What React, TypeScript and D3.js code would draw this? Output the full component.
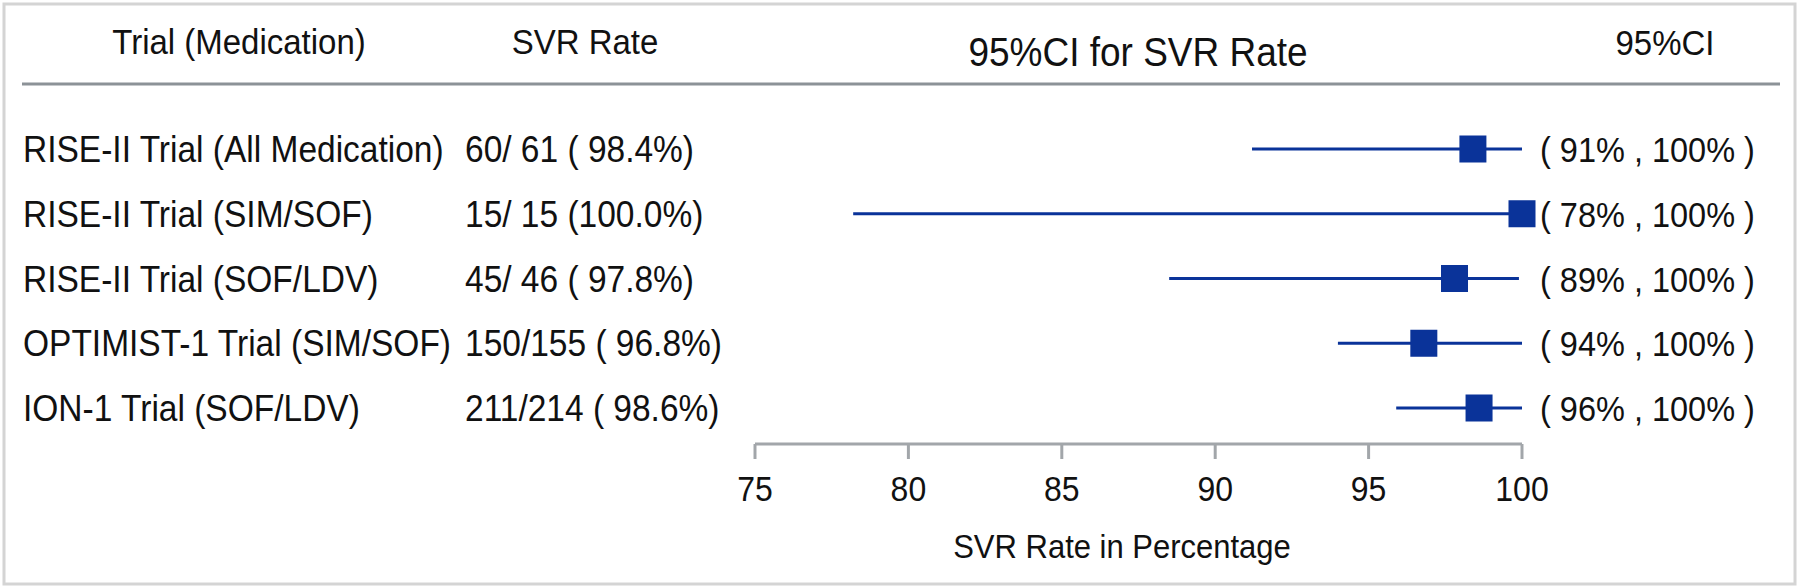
import React from 'react'
import * as d3 from 'd3'

const trials = [
  'RISE-II Trial (All Medication)',
  'RISE-II Trial (SIM/SOF)',
  'RISE-II Trial (SOF/LDV)',
  'OPTIMIST-1 Trial (SIM/SOF)',
  'ION-1 Trial (SOF/LDV)',
]
const rateLabels = ['60/ 61 ( 98.4%)', '15/ 15 (100.0%)', '45/ 46 ( 97.8%)', '150/155 ( 96.8%)', '211/214 ( 98.6%)']
const rates = [98.4, 100, 97.8, 96.8, 98.6]
const lower = [91.2, 78.2, 88.5, 94.0, 95.9]
const upper = [100, 100, 99.9, 100, 100]
const ciLabels = ['( 91% , 100% )', '( 78% , 100% )', '( 89% , 100% )', '( 94% , 100% )', '( 96% , 100% )']
const xTicks = [75, 80, 85, 90, 95, 100]

const W = 1800
const H = 588
const font = '"Liberation Sans", Arial, sans-serif'
const blue = '#0a3399'

// text stretched a bit vertically, like the original export
function Txt({ x, y, size, anchor = 'start', children }: any) {
  return (
    <text
      transform={`translate(${x},${y}) scale(1,1.08)`}
      fontSize={size}
      textAnchor={anchor}
      fill="#111"
      style={{ whiteSpace: 'pre' }}
    >
      {children}
    </text>
  )
}

export default function App() {
  const x = d3.scaleLinear().domain([75, 100]).range([755, 1522])
  const y = d3.scalePoint<string>().domain(trials).range([149, 408])
  const axisY = 444
  const box = 27

  return (
    <div style={{ position: 'absolute', left: 0, top: 0 }}>
      <svg width={W} height={H} style={{ display: 'block', background: '#fff' }} fontFamily={font}>
        <rect x={4} y={4} width={1791} height={580} fill="#fff" stroke="#d4d4d4" strokeWidth={3} />

        {/* header */}
        <Txt x={239} y={54} size={33} anchor="middle">Trial (Medication)</Txt>
        <Txt x={585} y={54} size={33} anchor="middle">SVR Rate</Txt>
        <Txt x={1138} y={66} size={37} anchor="middle">95%CI for SVR Rate</Txt>
        <Txt x={1665} y={55} size={33} anchor="middle">95%CI</Txt>
        <line x1={22} x2={1780} y1={84} y2={84} stroke="#8c9297" strokeWidth={3} />

        {/* rows */}
        {trials.map((t, i) => {
          const cy = y(t) as number
          return (
            <g key={t}>
              <Txt x={23} y={cy + 13} size={33.5}>{t}</Txt>
              <Txt x={465} y={cy + 13} size={33.5}>{rateLabels[i]}</Txt>
              <line x1={x(lower[i])} x2={x(upper[i])} y1={cy} y2={cy} stroke={blue} strokeWidth={3} />
              <rect x={x(rates[i]) - box / 2} y={cy - box / 2} width={box} height={box} fill={blue} />
              <Txt x={1540} y={cy + 13} size={32.5}>{ciLabels[i]}</Txt>
            </g>
          )
        })}

        {/* x axis */}
        <line x1={x(75)} x2={x(100)} y1={axisY} y2={axisY} stroke="#a2a6aa" strokeWidth={3} />
        {xTicks.map(t => (
          <g key={t}>
            <line x1={x(t)} x2={x(t)} y1={axisY} y2={axisY + 15} stroke="#a2a6aa" strokeWidth={3} />
            <Txt x={x(t)} y={501} size={32} anchor="middle">{t}</Txt>
          </g>
        ))}
        <Txt x={1122} y={558} size={31} anchor="middle">SVR Rate in Percentage</Txt>
      </svg>
    </div>
  )
}
